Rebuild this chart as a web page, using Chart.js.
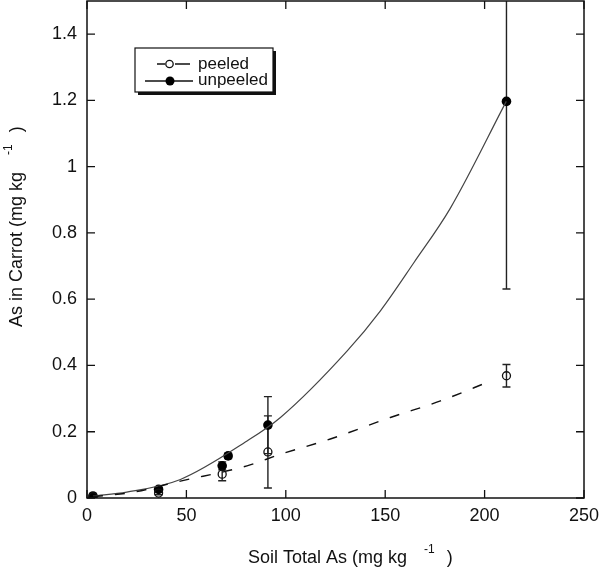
<!DOCTYPE html>
<html>
<head>
<meta charset="utf-8">
<script src="https://cdn.jsdelivr.net/npm/chart.js@4.4.1/dist/chart.umd.min.js"></script>
<style>
html, body { margin: 0; padding: 0; background: #fff; }
#wrap { width: 600px; height: 569px; }
</style>
</head>
<body>
<div id="wrap"><canvas id="myChart" width="600" height="569"></canvas></div>
<script>
// measured points (mg/kg)
const unpeeledX = [3, 36, 68, 71, 91, 211];
const unpeeledY = [0.006, 0.026, 0.097, 0.127, 0.22, 1.197];
const unpeeledErr = [0.004, 0.006, 0.012, 0.008, 0.086, 0.566];

const peeledX = [3, 36, 68, 91, 211];
const peeledY = [0.004, 0.015, 0.072, 0.139, 0.369];
const peeledErr = [0.002, 0.005, 0.02, 0.109, 0.034];

// fitted curves
const unpeeledFitX = [3, 20, 47, 80.5, 97.3, 130.9, 147.6, 164.4, 182.8, 210.9];
const unpeeledFitY = [0.006, 0.018, 0.056, 0.172, 0.243, 0.444, 0.565, 0.71, 0.875, 1.197];
const peeledFitX = [3, 21.8, 47, 80.5, 97.3, 122.4, 152.6, 177.8, 203];
const peeledFitY = [0.004, 0.016, 0.051, 0.097, 0.132, 0.178, 0.243, 0.293, 0.353];

const xTicks = [0, 50, 100, 150, 200, 250];
const yTicks = [0, 0.2, 0.4, 0.6, 0.8, 1, 1.2, 1.4];

const FONT = '"Liberation Sans", Arial, Helvetica, sans-serif';

function toPoints(xs, ys){
    return xs.map((x, i) => ({x: x, y: ys[i]}));
}

function noPad(s){
    s.paddingTop = 0; s.paddingBottom = 0;
    s.paddingLeft = 0; s.paddingRight = 0;
}

const extras = {
    id: 'extras',
    beforeDatasetsDraw(chart){
        // error bars
        const ctx = chart.ctx;
        const xs = chart.scales.x, ys = chart.scales.y;
        const a = chart.chartArea;
        ctx.save();
        ctx.beginPath();
        ctx.rect(a.left, a.top, a.right - a.left, a.bottom - a.top);
        ctx.clip();
        ctx.strokeStyle = '#222';
        ctx.lineWidth = 1.4;
        const sets = [[peeledX, peeledY, peeledErr], [unpeeledX, unpeeledY, unpeeledErr]];
        sets.forEach(s => {
            s[0].forEach((x, i) => {
                const px = xs.getPixelForValue(x);
                const top = ys.getPixelForValue(s[1][i] + s[2][i]);
                const bot = ys.getPixelForValue(s[1][i] - s[2][i]);
                ctx.beginPath();
                ctx.moveTo(px, top); ctx.lineTo(px, bot);
                ctx.moveTo(px - 4, top); ctx.lineTo(px + 4, top);
                ctx.moveTo(px - 4, bot); ctx.lineTo(px + 4, bot);
                ctx.stroke();
            });
        });
        ctx.restore();
    },
    afterDraw(chart){
        const ctx = chart.ctx;
        const a = chart.chartArea;
        const xs = chart.scales.x, ys = chart.scales.y;
        ctx.save();

        // frame with inward ticks
        ctx.strokeStyle = '#111';
        ctx.lineWidth = 1.5;
        ctx.strokeRect(a.left, a.top, a.right - a.left, a.bottom - a.top);
        ctx.lineWidth = 1.3;
        ctx.beginPath();
        xTicks.forEach(v => {
            const p = xs.getPixelForValue(v);
            ctx.moveTo(p, a.bottom); ctx.lineTo(p, a.bottom - 8);
            ctx.moveTo(p, a.top); ctx.lineTo(p, a.top + 8);
        });
        yTicks.forEach(v => {
            const p = ys.getPixelForValue(v);
            ctx.moveTo(a.left, p); ctx.lineTo(a.left + 8, p);
            ctx.moveTo(a.right, p); ctx.lineTo(a.right - 8, p);
        });
        ctx.stroke();

        // legend box
        const bx = 135, by = 48, bw = 138, bh = 44;
        ctx.fillStyle = '#111';
        ctx.fillRect(bx + 3, by + 3, bw, bh);
        ctx.fillStyle = '#fff';
        ctx.fillRect(bx, by, bw, bh);
        ctx.lineWidth = 1.2;
        ctx.strokeStyle = '#111';
        ctx.strokeRect(bx, by, bw, bh);

        // peeled entry
        ctx.lineWidth = 1.3;
        ctx.beginPath();
        ctx.moveTo(157, 64); ctx.lineTo(165, 64);
        ctx.moveTo(175, 64); ctx.lineTo(190, 64);
        ctx.stroke();
        ctx.beginPath();
        ctx.arc(169.5, 64, 3.7, 0, Math.PI * 2);
        ctx.stroke();
        // unpeeled entry
        ctx.beginPath();
        ctx.moveTo(145, 81); ctx.lineTo(193, 81);
        ctx.stroke();
        ctx.fillStyle = '#000';
        ctx.beginPath();
        ctx.arc(170, 81, 4.5, 0, Math.PI * 2);
        ctx.fill();

        ctx.fillStyle = '#111';
        ctx.font = '17px ' + FONT;
        ctx.textBaseline = 'middle';
        ctx.textAlign = 'left';
        ctx.fillText('peeled', 198, 64);
        ctx.fillText('unpeeled', 198, 80);

        // axis titles with superscripts
        ctx.textBaseline = 'alphabetic';
        function title(main, x, y){
            ctx.font = '18px ' + FONT;
            ctx.fillText(main, x, y);
            let w = ctx.measureText(main).width + 17;
            ctx.font = '12px ' + FONT;
            ctx.fillText('-1', x + w, y - 10);
            w += ctx.measureText('-1').width + 12;
            ctx.font = '18px ' + FONT;
            ctx.fillText(')', x + w, y);
        }
        title('Soil Total As (mg kg', 248, 563);
        ctx.translate(22, 327);
        ctx.rotate(-Math.PI / 2);
        title('As in Carrot (mg kg', 0, 0);

        ctx.restore();
    }
};

const ctx = document.getElementById('myChart').getContext('2d');
const myChart = new Chart(ctx, {
    type: 'scatter',
    data: {
        datasets: [
        {
            label: 'peeled fit',
            data: toPoints(peeledFitX, peeledFitY),
            showLine: true,
            borderColor: '#111',
            borderWidth: 1.4,
            borderDash: [10, 12],
            pointRadius: 0,
            cubicInterpolationMode: 'monotone'
        },
        {
            label: 'unpeeled fit',
            data: toPoints(unpeeledFitX, unpeeledFitY),
            showLine: true,
            borderColor: '#444',
            borderWidth: 1.2,
            pointRadius: 0,
            cubicInterpolationMode: 'monotone'
        },
        {
            label: 'peeled',
            data: toPoints(peeledX, peeledY),
            pointRadius: 4,
            pointBorderWidth: 1.3,
            borderColor: '#111',
            backgroundColor: 'rgba(0,0,0,0)'
        },
        {
            label: 'unpeeled',
            data: toPoints(unpeeledX, unpeeledY),
            pointRadius: 4.8,
            pointBorderWidth: 0,
            borderColor: '#000',
            backgroundColor: '#000'
        }
        ]
    },
    options: {
        responsive: false,
        animation: false,
        layout: { autoPadding: false, padding: { left: 0, right: 16, top: 1, bottom: 0 } },
        plugins: {
            legend: { display: false },
            tooltip: { enabled: false }
        },
        scales: {
            x: {
                type: 'linear',
                min: 0,
                max: 250,
                grid: { display: false, drawTicks: false },
                border: { display: false },
                afterBuildTicks: s => { s.ticks = xTicks.map(v => ({value: v})); },
                afterFit: s => { s.height = 71; noPad(s); },
                ticks: {
                    padding: 7,
                    maxRotation: 0,
                    color: '#111',
                    font: { family: FONT, size: 18 },
                    callback: v => String(v)
                }
            },
            y: {
                type: 'linear',
                min: 0,
                max: 1.5,
                grid: { display: false, drawTicks: false },
                border: { display: false },
                afterBuildTicks: s => { s.ticks = yTicks.map(v => ({value: v})); },
                afterFit: s => { s.width = 87; noPad(s); },
                ticks: {
                    padding: 10,
                    color: '#111',
                    font: { family: FONT, size: 18 },
                    callback: v => String(+v.toFixed(1))
                }
            }
        }
    },
    plugins: [extras]
});
</script>
</body>
</html>
